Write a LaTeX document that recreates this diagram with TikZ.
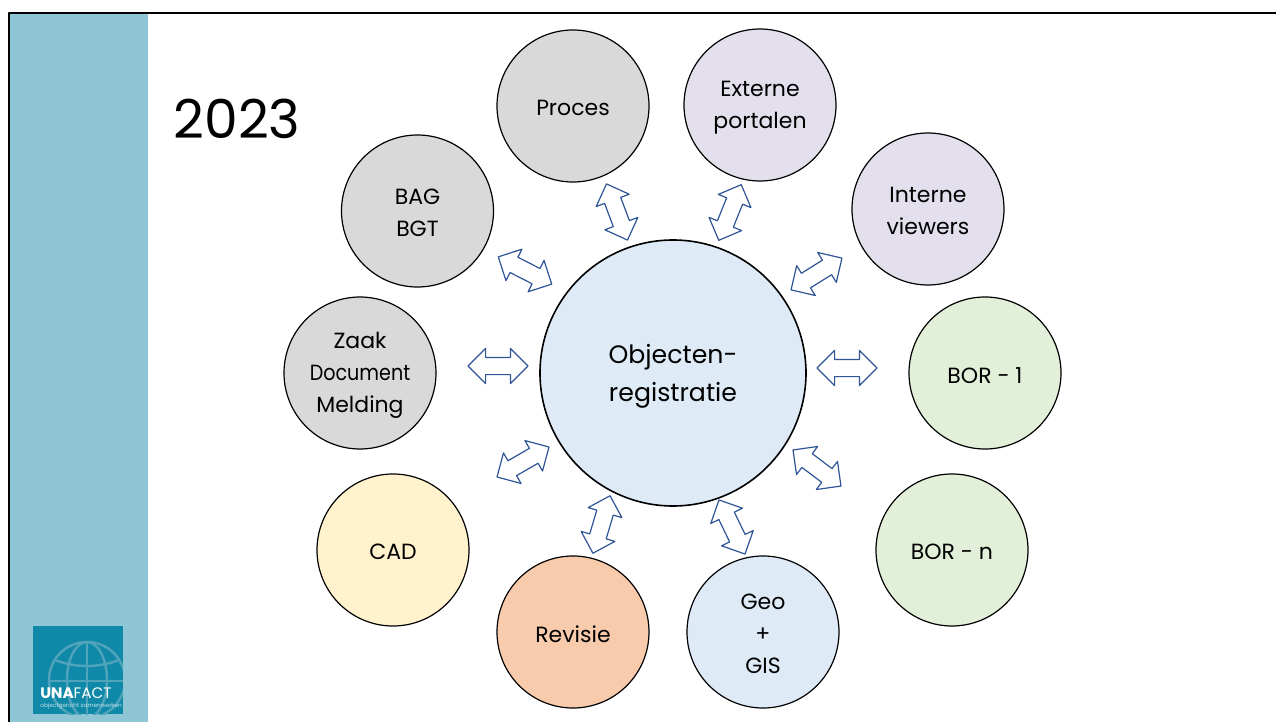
\documentclass[tikz,border=0pt]{standalone}
\usepackage{fontspec}
\setmainfont{Poppins}
\usetikzlibrary{shapes.arrows}
\definecolor{sidebar}{HTML}{8EC6D6}
\definecolor{logoblue}{HTML}{1089A8}
\definecolor{logoglobe}{HTML}{4FA3BB}
\definecolor{arrowblue}{HTML}{2F5597}
\definecolor{greyfill}{HTML}{D9D9D9}
\definecolor{purplefill}{HTML}{E4DFEC}
\definecolor{greenfill}{HTML}{E2EFD9}
\definecolor{yellowfill}{HTML}{FFF2CC}
\definecolor{orangefill}{HTML}{F7CBAC}
\definecolor{bluefill}{HTML}{DEEAF6}
\tikzset{
  sat/.style={circle,draw=black,line width=0.6pt,minimum size=76pt,inner sep=0pt},
  hub/.style={sat,minimum size=133pt,line width=0.8pt},
  sattext/.style={align=center,inner sep=0pt,yshift=-1.1pt,font=\fontsize{11}{16}\selectfont},
  hubtext/.style={align=center,inner sep=0pt,yshift=-1.8pt,font=\fontsize{12.6}{19}\selectfont},
  link/.style={double arrow,draw=arrowblue,fill=white,line width=0.6pt,inner sep=0pt,text height=8pt,text depth=0pt,
    minimum width=17pt,minimum height=30pt,double arrow head extend=4.5pt,double arrow tip angle=90}
}
\begin{document}
\begin{tikzpicture}[line cap=round,line join=round,x=0.5pt,y=-0.5pt]
      \useasboundingbox (0,0) rectangle (1276,722);
      \fill[color=sidebar] (9,13) rectangle (148,722);
      \draw[line width=1pt,color=black] (9,722) -- (9,13.5) -- (1276,13.5);
      % logo
      \fill[color=logoblue] (33,626) rectangle (123,714);
      \begin{scope}
        \clip (33,626) rectangle (123,714);
        \draw[color=logoglobe,line width=1.2pt] (87,680) circle (38);
        \draw[color=logoglobe,line width=1.2pt] (87,680) ellipse (20 and 38);
        \draw[color=logoglobe,line width=1.2pt] (87,642) -- (87,718);
        \draw[color=logoglobe,line width=1.2pt] (55,660) .. controls (76,668) and (98,668) .. (119,660);
        \draw[color=logoglobe,line width=1.2pt] (49,681) -- (125,681);
      \end{scope}
      \node[anchor=west,inner sep=0pt,text=white,font=\fontsize{7.6}{8}\selectfont] (logoname) at (40,693) {\textbf{UNA}FACT};
      \node[anchor=west,inner sep=0pt,text=white!75!logoblue,font=\fontsize{2.9}{3}\selectfont] (logotag) at (40,706) {objectgericht samenwerken};
      % title
      \node[anchor=center,inner sep=0pt,font=\fontsize{26.8}{30}\selectfont] (title) at (237,119) {2023};
      % centre and satellites
      \node[hub,fill=bluefill,label={[hubtext]center:Objecten-\\registratie}] (register) at (673,373) {};
      \node[sat,fill=greyfill,label={[sattext]center:Proces}] (proces) at (573,106) {};
      \node[sat,fill=purplefill,label={[sattext]center:Externe\\portalen}] (extern) at (760,105) {};
      \node[sat,fill=purplefill,label={[sattext]center:Interne\\viewers}] (intern) at (928,209) {};
      \node[sat,fill=greenfill,label={[sattext]center:BOR - 1}] (borone) at (985,373) {};
      \node[sat,fill=greenfill,label={[sattext]center:BOR - n}] (born) at (952,550) {};
      \node[sat,fill=bluefill,label={[sattext]center:Geo\\+\\GIS}] (geo) at (763,632) {};
      \node[sat,fill=orangefill,label={[sattext]center:Revisie}] (revisie) at (573,632) {};
      \node[sat,fill=yellowfill,label={[sattext]center:CAD}] (cad) at (393,550) {};
      \node[sat,fill=greyfill,label={[sattext]center:Zaak\\\scalebox{0.87}[1]{Document}\\Melding}] (zaak) at (360,373) {};
      \node[sat,fill=greyfill,label={[sattext]center:BAG\\BGT}] (bag) at (417.5,211) {};
      % block arrows
      \foreach \x/\y/\a/\n in {498/366/0/lzaak,525/270.5/-27/lbag,617/212/-69.5/lproces,730/212.5/68/lextern,
        816.5/274/32/lintern,847/368/0/lborone,817/468/-37/lborn,732/527/-64.3/lgeo,601.5/524.5/73.4/lrevisie,523/462/30/lcad}
      \node[link,rotate=\a] (\n) at (\x,\y) {};
    \end{tikzpicture}
\end{document}
